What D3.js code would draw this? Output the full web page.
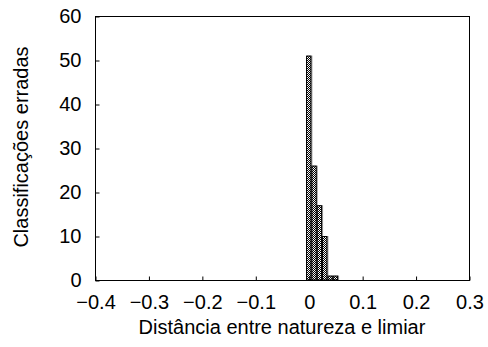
<!DOCTYPE html>
<html><head><meta charset="utf-8">
<script src="https://cdn.jsdelivr.net/npm/d3@7"></script>
<style>body{margin:0;background:#fff}svg{display:block}text{font-family:"Liberation Sans",Arial,sans-serif;font-size:20px;fill:#000}</style>
</head><body><svg id="c" width="488" height="347"></svg>
<script>
const binCenters = [0.00, 0.01, 0.02, 0.03, 0.04, 0.05];
const counts = [51, 26, 17, 10, 1, 1];
const binWidth = 0.01;
const xTicks = [-0.4, -0.3, -0.2, -0.1, 0, 0.1, 0.2, 0.3];
const yTicks = [0, 10, 20, 30, 40, 50, 60];
const xLabel = "Distância entre natureza e limiar";
const yLabel = "Classificações erradas";

const svg = d3.select("#c");
const L = 95, R = 469, T = 16, B = 280;
const FS = 20;
const x = d3.scaleLinear().domain([-0.4, 0.3]).range([L, R]);
const y = d3.scaleLinear().domain([0, 60]).range([B, T]);

const defs = svg.append("defs");
const p = defs.append("pattern").attr("id","chk").attr("patternUnits","userSpaceOnUse")
  .attr("width",2).attr("height",2);
p.append("rect").attr("width",2).attr("height",2).attr("fill","#000");
p.append("rect").attr("x",0).attr("y",0).attr("width",1).attr("height",1).attr("fill","#fff");
p.append("rect").attr("x",1).attr("y",1).attr("width",1).attr("height",1).attr("fill","#fff");

const data = binCenters.map((c,i)=>({c, v: counts[i]}));
svg.append("g").selectAll("rect").data(data).join("rect")
  .attr("x", d=>x(d.c - binWidth/2)+1)
  .attr("y", d=>y(d.v))
  .attr("width", d=>x(d.c+binWidth/2)-x(d.c-binWidth/2))
  .attr("height", d=>y(0)-y(d.v))
  .attr("fill","#999");
svg.append("g").selectAll("rect").data(data).join("rect")
  .attr("x", d=>x(d.c - binWidth/2)+0.5)
  .attr("y", d=>y(d.v)+0.5)
  .attr("width", d=>x(d.c+binWidth/2)-x(d.c-binWidth/2)-1)
  .attr("height", d=>y(0)-y(d.v)-0.5)
  .attr("fill","url(#chk)").attr("stroke","#000").attr("stroke-width",1);

svg.append("rect").attr("x",L+0.5).attr("y",T+0.5).attr("width",R-L).attr("height",B-T)
  .attr("fill","none").attr("stroke","#000").attr("stroke-width",1);

const xa = svg.append("g").attr("transform",`translate(0.5,${B+0.5})`)
  .call(d3.axisBottom(x).tickValues(xTicks).tickSize(-4).tickPadding(0)
    .tickFormat(d=> d===0 ? "0" : d3.format(".1f")(d).replace("-","\u2212")));
xa.select(".domain").remove();
xa.selectAll("line").attr("stroke","#000");
xa.selectAll("text").attr("font-size",FS).attr("font-family",'"Liberation Sans",Arial,sans-serif')
  .attr("fill","#000").attr("y",28).attr("dy",0);

const ya = svg.append("g").attr("transform",`translate(${L+0.5},0.5)`)
  .call(d3.axisLeft(y).tickValues(yTicks).tickSize(-4).tickPadding(14).tickFormat(d3.format("d")));
ya.select(".domain").remove();
ya.selectAll("line").attr("stroke","#000");
ya.selectAll("text").attr("font-size",FS).attr("font-family",'"Liberation Sans",Arial,sans-serif').attr("fill","#000");

svg.append("text").attr("x",(L+R)/2).attr("y",334).attr("text-anchor","middle").text(xLabel);
svg.append("text").attr("transform",`translate(28,${(T+B)/2 - 1}) rotate(-90)`).attr("text-anchor","middle").text(yLabel);
</script></body></html>
